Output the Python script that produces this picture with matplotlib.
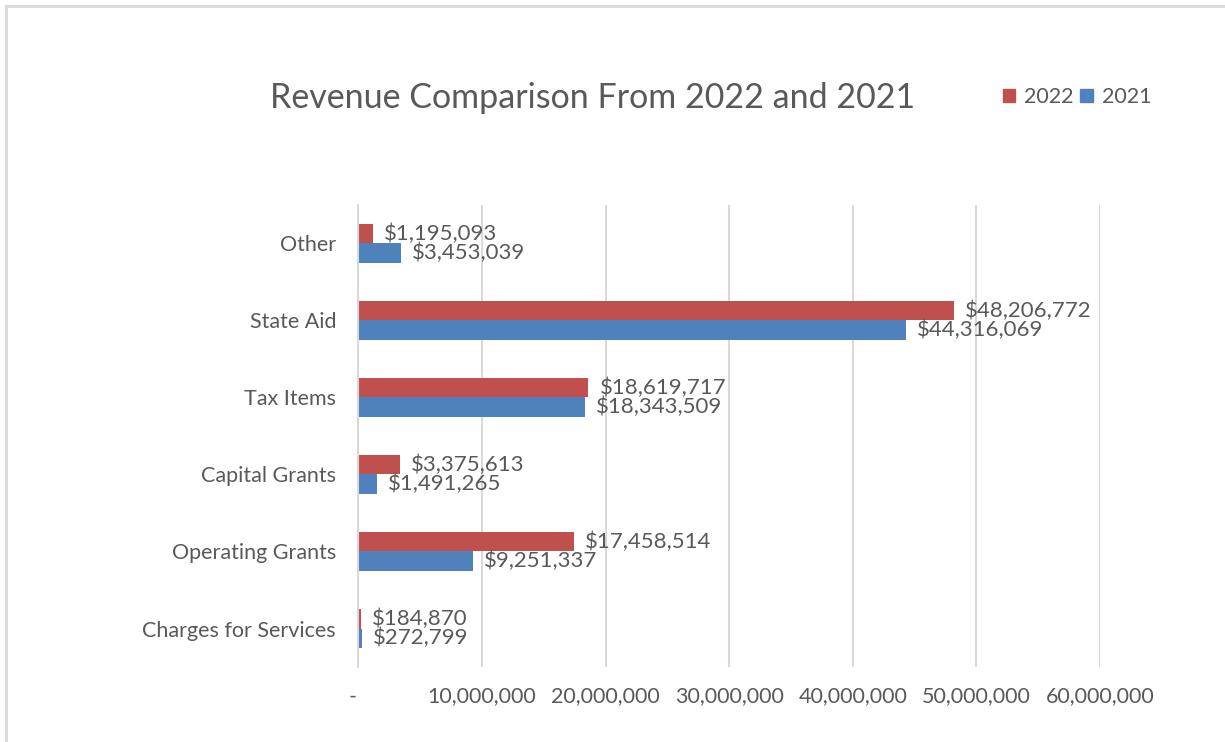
import numpy as np
import matplotlib.pyplot as plt
from matplotlib.patches import Patch, Rectangle
from matplotlib.ticker import FuncFormatter

plt.rcParams['font.family'] = ['Lato', 'DejaVu Sans']

# revenue by category, bottom to top
categories = ['Charges for Services', 'Operating Grants', 'Capital Grants',
              'Tax Items', 'State Aid', 'Other']
rev_2022 = [184870, 17458514, 3375613, 18619717, 48206772, 1195093]
rev_2021 = [272799, 9251337, 1491265, 18343509, 44316069, 3453039]
years = ['2022', '2021']

red = '#C0504D'
blue = '#4F81BD'
txt = '#595959'

fig = plt.figure(figsize=(12.25, 7.42), dpi=100)
ax = fig.add_axes([0.2925, 0.101, 0.6055, 0.623])

# light frame around the chart area
fig.add_artist(Rectangle((6 / 1225, -0.05), 1.1, 1.05 - 6 / 742,
                         transform=fig.transFigure, fill=False,
                         edgecolor='#D9D9D9', linewidth=2))

y = np.arange(len(categories))
h = 0.25
bars22 = ax.barh(y + h / 2, rev_2022, height=h, color=red, label=years[0])
bars21 = ax.barh(y - h / 2, rev_2021, height=h, color=blue, label=years[1])

for bars in (bars22, bars21):
    ax.bar_label(bars, labels=[f'${v:,.0f}' for v in bars.datavalues],
                 padding=8, fontsize=16, color=txt)

ax.set_xlim(0, 60000000)
ax.set_ylim(-0.5, len(categories) - 0.5)
ax.set_xticks(np.arange(0, 60000001, 10000000))
ax.xaxis.set_major_formatter(FuncFormatter(lambda v, p: '-  ' if v == 0 else f'{v:,.0f}'))
ax.set_yticks(y)
ax.set_yticklabels(categories)
ax.tick_params(axis='x', length=0, pad=14, labelsize=15.5, labelcolor=txt)
ax.tick_params(axis='y', length=0, pad=16, labelsize=15.5, labelcolor=txt)

ax.grid(axis='x', color='#D9D9D9', linewidth=1.5)
ax.set_axisbelow(True)
for s in ['top', 'right', 'bottom']:
    ax.spines[s].set_visible(False)
ax.spines['left'].set_color('#D9D9D9')
ax.spines['left'].set_linewidth(1.5)

fig.text(0.484, 0.868, 'Revenue Comparison From 2022 and 2021', ha='center',
         va='center', fontsize=24.5, color=txt)

handles = [Patch(color=red), Patch(color=blue)]
fig.legend(handles, years, loc='center', bbox_to_anchor=(0.879, 0.869),
           ncol=2, frameon=False, fontsize=15.5, labelcolor=txt,
           handlelength=0.6, handleheight=0.6, handletextpad=0.4,
           columnspacing=0.3)

plt.savefig('out.png', dpi=100)
